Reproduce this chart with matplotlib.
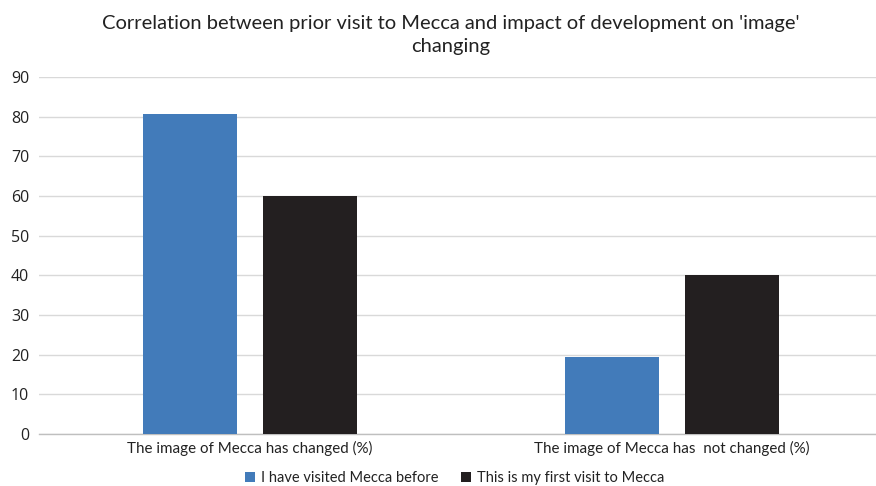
import numpy as np
import matplotlib.pyplot as plt

categories = ["The image of Mecca has changed (%)", "The image of Mecca has  not changed (%)"]
series_names = ["I have visited Mecca before", "This is my first visit to Mecca"]
visited_before = [80.6, 19.4]
first_visit = [60.0, 40.0]
yticks = [0, 10, 20, 30, 40, 50, 60, 70, 80, 90]

blue = "#427bba"
dark = "#231f20"

plt.rcParams['font.family'] = ['Lato', 'DejaVu Sans']

W, H = 876, 486
fig = plt.figure(figsize=(W / 100, H / 100), dpi=100)
ax = fig.add_axes([39 / W, (H - 434) / H, 844 / W, (434 - 77) / H])

x = np.arange(len(categories))
width = 0.223
off = 0.142
ax.bar(x - off, visited_before, width, color=blue, label=series_names[0], zorder=3)
ax.bar(x + off, first_visit, width, color=dark, label=series_names[1], zorder=3)

ax.set_xlim(-0.5, 1.5)
ax.set_ylim(0, 90)
ax.set_yticks(yticks)
ax.set_yticklabels([str(v) for v in yticks], fontsize=11.5, color="#222222",
                   family=['Open Sans', 'DejaVu Sans'])
ax.set_xticks(x)
ax.set_xticklabels(categories, fontsize=10.9, color="#222222")
ax.tick_params(axis='both', length=0)
ax.tick_params(axis='y', pad=7)
ax.tick_params(axis='x', pad=5)

ax.grid(axis='y', color="#d9d9d9", linewidth=1, zorder=0)
for s in ['top', 'right', 'left']:
    ax.spines[s].set_visible(False)
ax.spines['bottom'].set_color("#bfbfbf")
ax.spines['bottom'].set_linewidth(1)

fig.text(451 / W, 1 - 35 / H,
         "Correlation between prior visit to Mecca and impact of development on 'image'\nchanging",
         ha='center', va='center', fontsize=14.5, color="#222222", linespacing=1.4)

fig.legend(loc='center', bbox_to_anchor=(455 / W, 1 - 478 / H), ncol=2, frameon=False,
           fontsize=10.5, handlelength=0.65, handleheight=0.65, handletextpad=0.45,
           columnspacing=1.55, labelcolor="#222222")

fig.savefig("out.png", dpi=100)
